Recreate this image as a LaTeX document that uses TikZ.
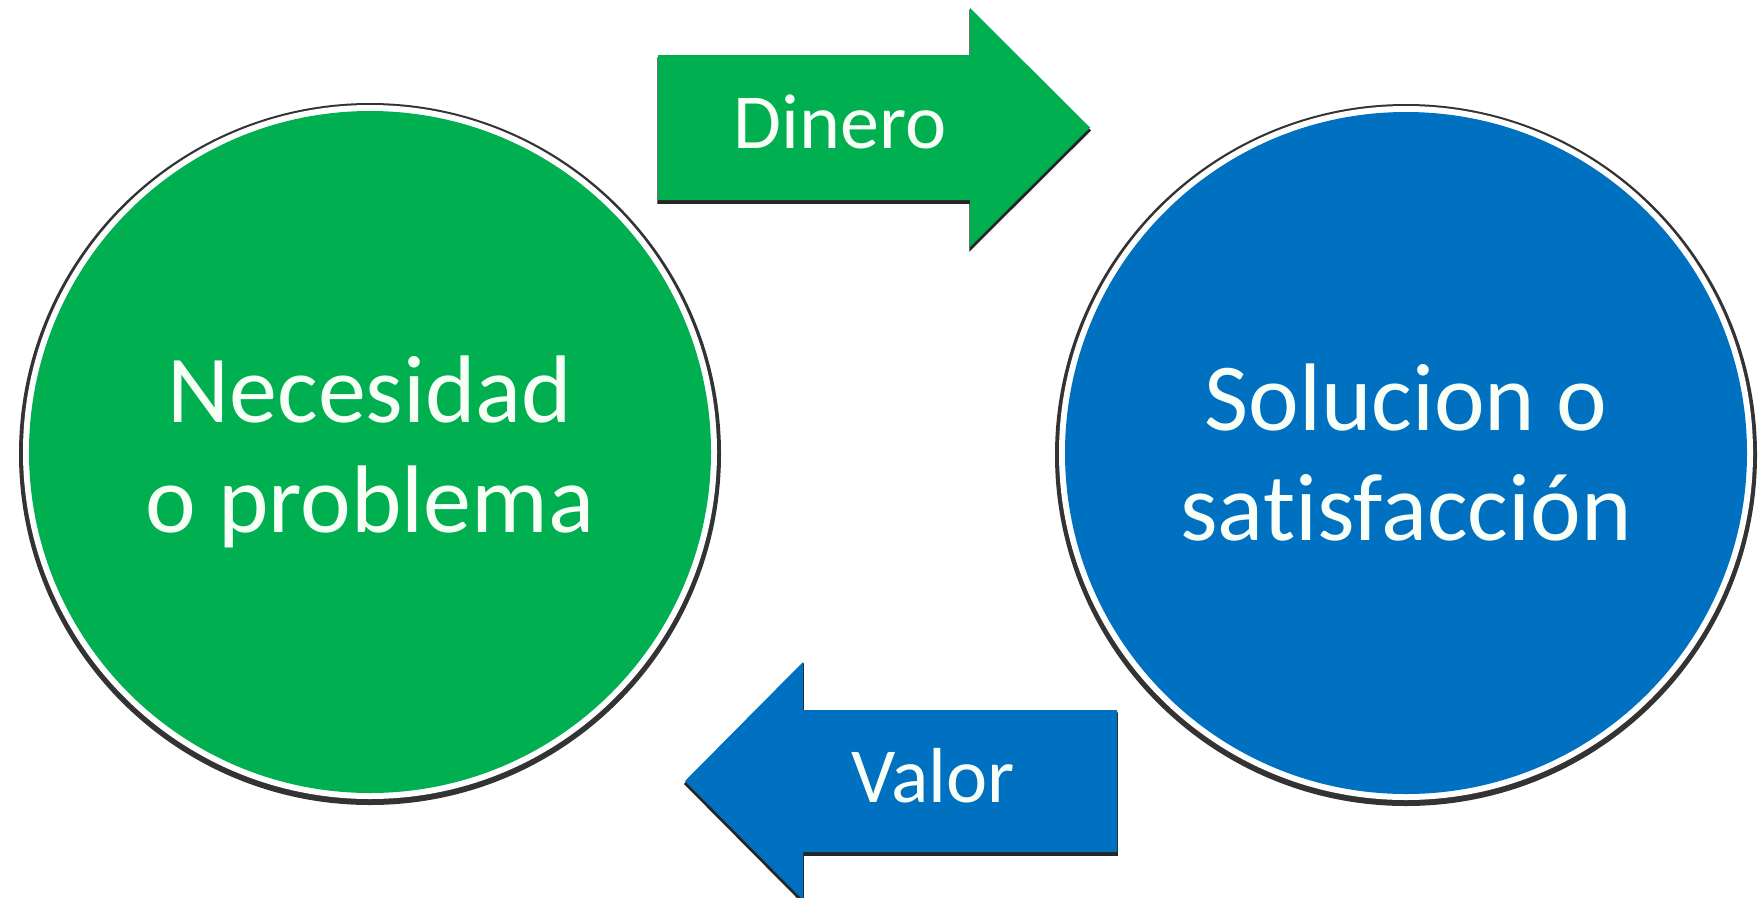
\documentclass[tikz,border=0pt]{standalone}
\usepackage{fontspec}
\setmainfont{Carlito}[Ligatures=NoCommon]
\usepackage{xcolor}
\usetikzlibrary{positioning,calc}
\definecolor{needgreen}{RGB}{0,176,80}
\definecolor{solblue}{RGB}{0,112,192}
\definecolor{labelwhite}{RGB}{248,255,246}

\begin{document}
\begin{tikzpicture}[x=1pt,y=-1pt,
    bubble/.style={circle,minimum size=682pt,inner sep=0pt,align=center,
        text=labelwhite,font=\fontsize{96}{110}\selectfont},
    flowtext/.style={text=labelwhite,font=\fontsize{78}{90}\selectfont,anchor=base,inner sep=0pt},
    shade/.style={fill=black!85,draw=black!85,line width=1.5pt}]
    \useasboundingbox (0,0) rectangle (1761,897);
    \clip (0,0) rectangle (1761,897);

    % circle centres
    \coordinate (cneed) at (370,452);
    \coordinate (csol) at (1406,453);

    % rings behind the circles
    \fill[black!80] ([yshift=-2pt]cneed) circle (351);
    \fill[white] (cneed) circle (347);
    \fill[black!80] ([yshift=-2pt]csol) circle (351);
    \fill[white] (csol) circle (347);

    \node[bubble,fill=needgreen] (need) at (cneed) {Necesidad\\o problema};
    \node[bubble,fill=solblue] (sol) at (csol) {Solucion o\\satisfacción};

    % Dinero arrow
    \fill[shade,yshift=-3pt] (658,55) -- (970,55) -- (970,8) -- (1090,127.5)
        -- (970,247) -- (970,200) -- (658,200) -- cycle;
    \fill[needgreen] (658,55) -- (970,55) -- (970,8) -- (1090,127.5)
        -- (970,247) -- (970,200) -- (658,200) -- cycle;
    \node[flowtext] (dinero) at (840,148) {Dinero};

    % Valor arrow
    \fill[shade,yshift=-3pt] (1117,710) -- (803,710) -- (803,662) -- (685,781)
        -- (803,900) -- (803,852) -- (1117,852) -- cycle;
    \fill[solblue] (1117,710) -- (803,710) -- (803,662) -- (685,781)
        -- (803,900) -- (803,852) -- (1117,852) -- cycle;
    \node[flowtext] (valor) at (933,802) {Valor};
\end{tikzpicture}
\end{document}
